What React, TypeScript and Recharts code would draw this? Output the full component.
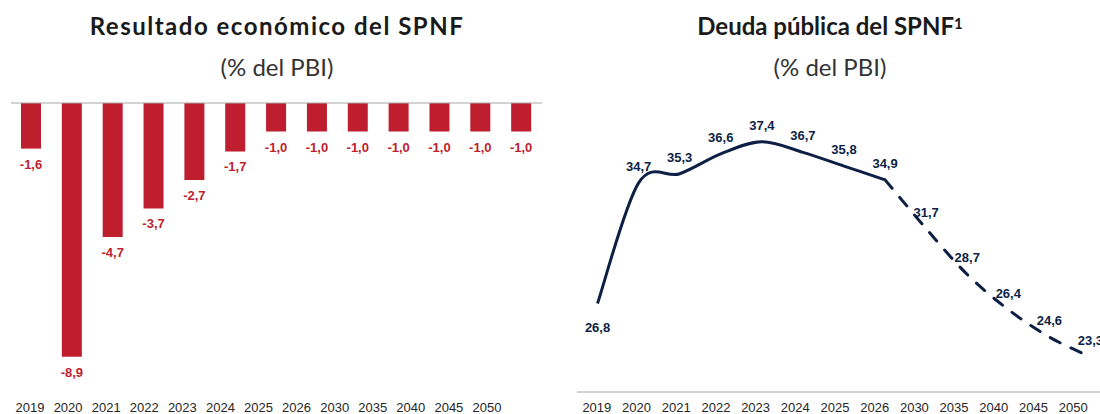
import { Bar, BarChart, LabelList, Line, LineChart, XAxis, YAxis } from 'recharts'

const years = ['2019', '2020', '2021', '2022', '2023', '2024', '2025', '2026', '2030', '2035', '2040', '2045', '2050']
const fiscalResult = [-1.6, -8.9, -4.7, -3.7, -2.7, -1.7, -1.0, -1.0, -1.0, -1.0, -1.0, -1.0, -1.0]
const publicDebt = [26.8, 34.7, 35.3, 36.6, 37.4, 36.7, 35.8, 34.9, 31.7, 28.7, 26.4, 24.6, 23.3]
const lastActualYear = '2026'

const RED = '#be1e2d'
const NAVY = '#0d1f45'
const AXIS_GREY = '#a6a6a6'

const splitIdx = years.indexOf(lastActualYear)
const boundaryTicks = [...years.map((_, i) => i), years.length]

const resultRows = years.map((year, i) => ({ year, value: fiscalResult[i] }))
const debtRows = years.map((year, i) => ({
  year,
  actual: i <= splitIdx ? publicDebt[i] : null,
  projected: i >= splitIdx ? publicDebt[i] : null,
}))

const fmt = (v: number) => v.toFixed(1).replace('.', ',')

// excel-like smoothed line (uniform catmull-rom)
function smoothCurve(context: any) {
  let pts: number[][] = []
  return {
    areaStart() {},
    areaEnd() {},
    lineStart() {
      pts = []
    },
    lineEnd() {
      if (!pts.length) return
      context.moveTo(pts[0][0], pts[0][1])
      for (let i = 0; i < pts.length - 1; i++) {
        const p0 = pts[i - 1] ?? pts[i]
        const p1 = pts[i]
        const p2 = pts[i + 1]
        const p3 = pts[i + 2] ?? p2
        context.bezierCurveTo(
          p1[0] + (p2[0] - p0[0]) / 6,
          p1[1] + (p2[1] - p0[1]) / 6,
          p2[0] - (p3[0] - p1[0]) / 6,
          p2[1] - (p3[1] - p1[1]) / 6,
          p2[0],
          p2[1],
        )
      }
    },
    point(x: number, y: number) {
      pts.push([+x, +y])
    },
  }
}

const box = (props: any) => {
  const vb = props.viewBox ?? {}
  return {
    x: Number(vb.x ?? props.x ?? 0),
    y: Number(vb.y ?? props.y ?? 0),
    width: Number(vb.width ?? props.width ?? 0),
    height: Number(vb.height ?? props.height ?? 0),
  }
}

function BarValueLabel(props: any) {
  if (props.value == null) return null
  const { x, y, width, height } = box(props)
  const bottom = Math.max(y, y + height)
  return (
    <text x={x + width / 2} y={bottom + 20} textAnchor="middle" fill={RED} fontSize={13} fontWeight={700} fontFamily="'Liberation Sans', Arial, sans-serif">
      {fmt(Number(props.value))}
    </text>
  )
}

function makeDebtLabel(skipIndex: number) {
  return (props: any) => {
    if (props.value == null || props.index === skipIndex) return null
    const { x, y } = box(props)
    const below = props.index === 0
    return (
      <text x={x} y={below ? y + 29 : y - 12} textAnchor="middle" fill={NAVY} fontSize={13} fontWeight={700} fontFamily="'Liberation Sans', Arial, sans-serif">
        {fmt(Number(props.value))}
      </text>
    )
  }
}

const axisText = { fontSize: 13, fill: '#262626', fontFamily: "'Liberation Sans', Arial, sans-serif" }

export default function App() {
  return (
    <div style={{ position: 'fixed', left: 0, top: 0, width: 1100, height: 414, overflow: 'hidden', background: '#fff' }}>
      <Title left={0} width={554} text="Resultado económico del SPNF" spacing={1.5} />
      <Title left={560} width={540} text="Deuda pública del SPNF" sup="1" />

      <div style={{ position: 'absolute', left: 0, top: 0 }}>
        <BarChart width={560} height={414} data={resultRows} margin={{ top: 103, right: 18, bottom: 0, left: 11 }}>
          <XAxis xAxisId="labels" dataKey="year" height={26} interval={0} axisLine={false} tickLine={false} tickSize={0} tickMargin={15} padding={{ left: 0, right: 36 }} tick={axisText} />
          <XAxis xAxisId="bars" dataKey="year" height={0} hide />
          <XAxis xAxisId="grid" type="number" orientation="top" mirror domain={[0, years.length]} ticks={boundaryTicks} tick={false} tickSize={4} stroke={AXIS_GREY} allowDataOverflow />
          <YAxis hide domain={[-10, 0]} allowDataOverflow />
          <Bar xAxisId="bars" dataKey="value" fill={RED} barSize={20} isAnimationActive={false}>
            <LabelList dataKey="value" content={BarValueLabel} />
          </Bar>
        </BarChart>
      </div>

      <div style={{ position: 'absolute', left: 560, top: 0 }}>
        <LineChart width={560} height={414} data={debtRows} margin={{ top: 102, right: 9, bottom: 0, left: 17 }}>
          <XAxis xAxisId="line" dataKey="year" scale="band" hide />
          <XAxis xAxisId="grid" type="number" domain={[0, years.length]} ticks={boundaryTicks} tick={false} tickSize={4} height={1} padding={{ left: 0, right: 18 }} stroke={AXIS_GREY} allowDataOverflow />
          <XAxis xAxisId="labels" dataKey="year" scale="band" height={21} interval={0} axisLine={false} tickLine={false} tickSize={0} tickMargin={10} padding={{ left: 0, right: 18 }} tick={axisText} />
          <YAxis hide domain={[21, 40]} allowDataOverflow />
          <Line xAxisId="line" dataKey="actual" type={smoothCurve as any} stroke={NAVY} strokeWidth={3} dot={false} activeDot={false} isAnimationActive={false}>
            <LabelList dataKey="actual" content={makeDebtLabel(-1)} />
          </Line>
          <Line xAxisId="line" dataKey="projected" type={smoothCurve as any} stroke={NAVY} strokeWidth={3} strokeDasharray="11 12" strokeLinecap="round" dot={false} activeDot={false} isAnimationActive={false}>
            <LabelList dataKey="projected" content={makeDebtLabel(splitIdx)} />
          </Line>
        </LineChart>
      </div>
    </div>
  )
}

function Title({ left, width, text, sup, spacing = 0 }: { left: number; width: number; text: string; sup?: string; spacing?: number }) {
  return (
    <div style={{ position: 'absolute', left, top: 0, width, textAlign: 'center', fontFamily: 'Lato, sans-serif', color: '#1a1a1a' }}>
      <div style={{ position: 'absolute', top: 14, width: '100%', fontSize: 24, lineHeight: '24px', fontWeight: 700, letterSpacing: spacing }}>
        {text}
        {sup && <span style={{ fontSize: 15, verticalAlign: 'top', position: 'relative', top: -3 }}>{sup}</span>}
      </div>
      <div style={{ position: 'absolute', top: 55, width: '100%', fontSize: 24, lineHeight: '24px', color: '#333' }}>(% del PBI)</div>
    </div>
  )
}
